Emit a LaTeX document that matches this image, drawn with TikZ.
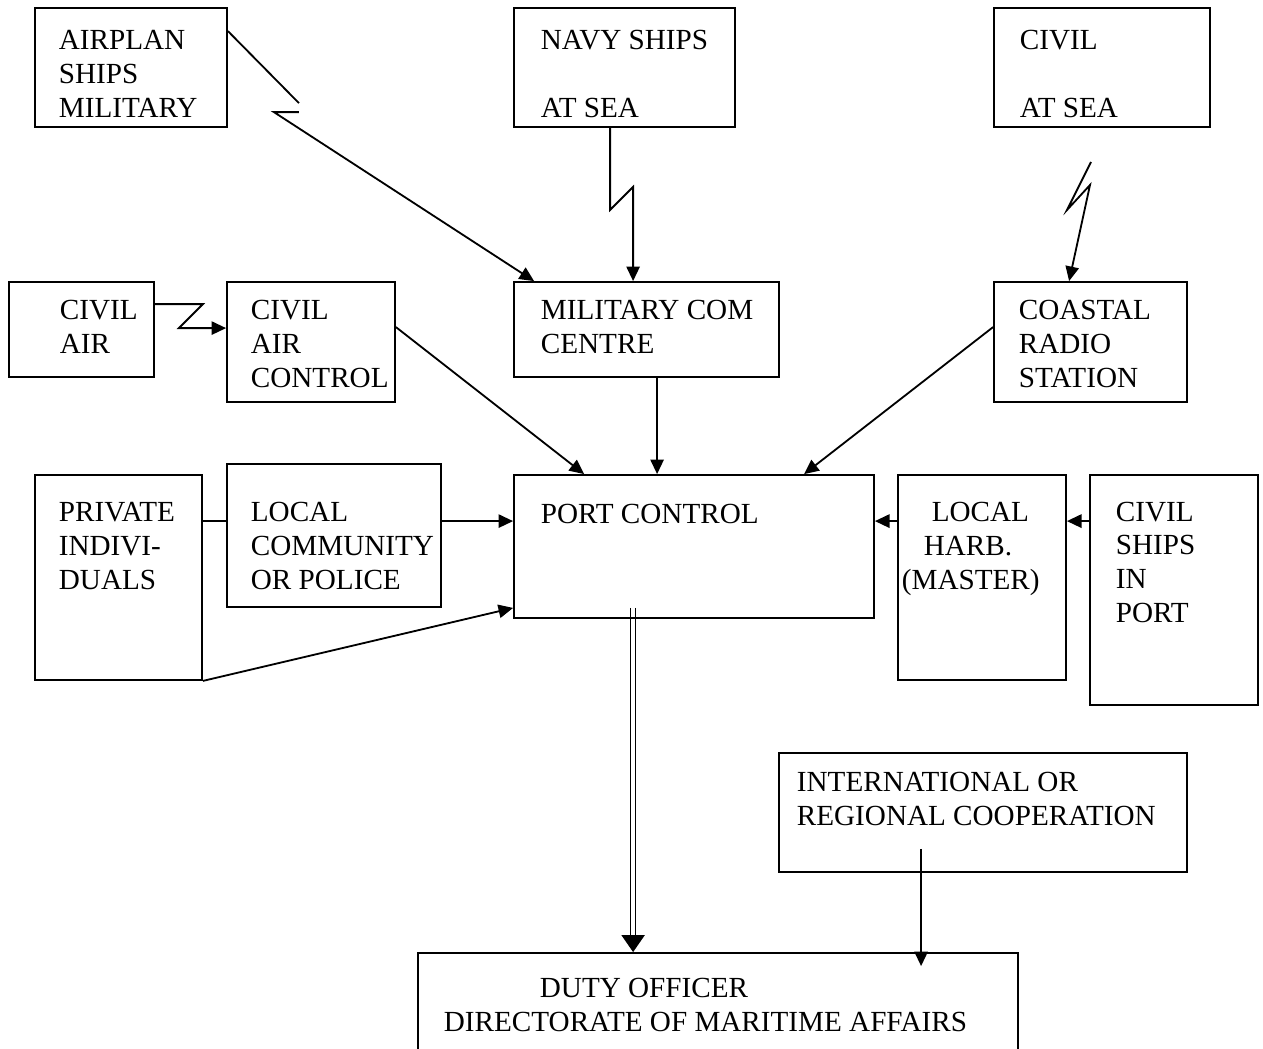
\documentclass[tikz,border=0pt]{standalone}
\usepackage{fontspec}
\setmainfont{Liberation Serif}
\usetikzlibrary{arrows.meta}
\usetikzlibrary{calc}
\usetikzlibrary{fit}
\newcommand*{\PixelSize}{0.4115pt}
\newcommand*{\RailGap}{1.03pt}

\begin{document}
\begin{tikzpicture}
	[x=\PixelSize, y=-\PixelSize, line width=0.75pt,
	 box/.style={draw, inner sep=0pt},
	 txt/.style={anchor=base west, align=left, inner sep=0pt, font=\fontsize{12pt}{13.8pt}\selectfont},
	 link/.style={-{Triangle[length=6pt,width=5.5pt]}}];

	\clip (0,0) rectangle (1263,1048);

	%Boxes
	\foreach \bname/\xa/\ya/\xb/\yb in {airplan/35/8/227/127, navy/514/8/735/127, civsea/994/8/1210/127,
		civair/9/282/154/377, airctl/227/282/395/402, milcom/514/282/779/377, coastal/994/282/1187/402,
		private/35/475/202/680, community/227/464/441/607, port/514/475/874/618,
		harbour/898/475/1066/680, civport/1090/475/1258/705, intl/779/753/1187/872, duty/418/953/1018/1070}
	{
		\node[box, fit={(\xa,\ya) (\xb,\yb)}] (\bname) {};
	}

	%Texts (placed at the baseline of their last line)
	\node[txt] (airplan-t) at (58,117) {AIRPLAN\\SHIPS\\MILITARY};
	\node[txt] (navy-t) at (540,117) {NAVY SHIPS\\[13.8pt]AT SEA};
	\node[txt] (civsea-t) at (1019,117) {CIVIL\\[13.8pt]AT SEA};
	\node[txt] (civair-t) at (59,353) {CIVIL\\AIR};
	\node[txt] (airctl-t) at (250,387) {CIVIL\\AIR\\CONTROL};
	\node[txt] (milcom-t) at (540,353) {MILITARY COM\\CENTRE};
	\node[txt] (coastal-t) at (1018,387) {COASTAL\\RADIO\\STATION};
	\node[txt] (private-t) at (58,589) {PRIVATE\\INDIVI-\\DUALS};
	\node[txt] (community-t) at (250,589) {LOCAL\\COMMUNITY\\OR POLICE};
	\node[txt] (port-t) at (540,523) {PORT CONTROL};
	\node[txt] (harbour-t) at (901,589) {\hspace*{12.3pt}LOCAL\\\hspace*{9pt}HARB.\\(MASTER)};
	\node[txt] (civport-t) at (1115,622) {CIVIL\\SHIPS\\IN\\PORT};
	\node[txt] (intl-t) at (796,825) {INTERNATIONAL OR\\REGIONAL COOPERATION};
	\node[txt] (duty-t) at (443,1031) {\hspace*{39.5pt}DUTY OFFICER\\DIRECTORATE OF MARITIME AFFAIRS};

	%Radio links
	\draw[link] ($(airplan.north east)+(0,24)$) -- +(71,72) ++(71,81) -- ++(-25,0) -- ($(milcom.north west)+(21,0)$);
	\draw[link] ($(navy.south west)+(97,0)$) -- ++(0,82) -- ++(23,-23) -- ($(milcom.north west)+(120,0)$);
	\coordinate (bolt) at (1091,162);
	\draw[link] (bolt) -- (1067,210) -- (1090,185) -- ($(coastal.north west)+(76,0)$);
	\draw[link] ($(civair.north east)+(0,23)$) -- ++(48,0) -- ++(-24,24) -- ($(airctl.north west)+(0,47)$);

	%Reports to port control
	\draw[link] ($(airctl.north east)+(0,46)$) -- ($(port.north west)+(71,0)$);
	\draw[link] ($(milcom.south west)+(144,0)$) -- ($(port.north west)+(144,0)$);
	\draw[link] ($(coastal.north west)+(0,46)$) -- ($(port.north west)+(291,0)$);
	\draw ($(private.north east)+(0,47)$) -- ($(community.north west)+(0,58)$);
	\draw[link] ($(community.north east)+(0,58)$) -- ($(port.north west)+(0,47)$);
	\draw[link] (private.south east) -- ($(port.south west)+(0,-11)$);
	\draw[link] ($(harbour.north west)+(0,47)$) -- ($(port.north east)+(0,47)$);
	\draw[link] ($(civport.north west)+(0,47)$) -- ($(harbour.north east)+(0,47)$);

	%To duty officer
	\coordinate (rail-top) at ($(port.south west)+(120,-11)$);
	\coordinate (rail-end) at ($(duty.north west)+(216,0)$);
	\foreach \s in {-\RailGap,\RailGap}
	{
		\draw[line width=0.65pt, shorten >=6pt] ([xshift=\s]rail-top) -- ([xshift=\s]rail-end);
	}
	\draw[-{Triangle[length=7pt,width=9.5pt]}] ($(rail-end)+(0,-17)$) -- (rail-end);
	\draw[link] ($(intl.south west)+(143,-24)$) -- ($(duty.north west)+(504,14)$);
\end{tikzpicture}
\end{document}
